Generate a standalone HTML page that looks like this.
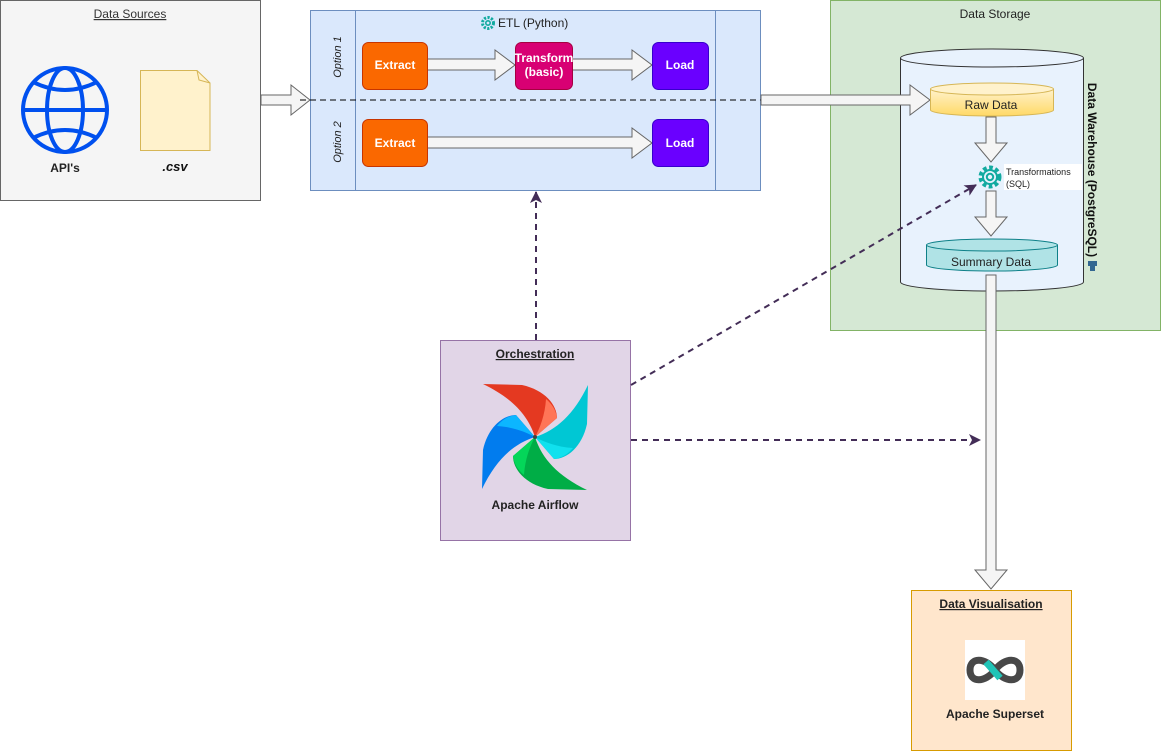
<!DOCTYPE html>
<html><head><meta charset="utf-8"><style>
html,body{margin:0;padding:0;background:#fff;width:1161px;height:752px;overflow:hidden}
svg{display:block;font-family:"Liberation Sans",Arial,sans-serif}
</style></head><body>
<svg width="1161" height="752" viewBox="0 0 1161 752" xmlns="http://www.w3.org/2000/svg">
<defs>
<linearGradient id="yg" x1="0" y1="0" x2="0" y2="1"><stop offset="0" stop-color="#fff2cc"/><stop offset="1" stop-color="#ffd966"/></linearGradient>
<marker id="ah" markerWidth="12" markerHeight="12" refX="11" refY="6" orient="auto" markerUnits="userSpaceOnUse"><path d="M0,0 L12,6 L0,12 L3,6 Z" fill="#432d57"/></marker>
</defs>

<rect x="0.5" y="0.5" width="260" height="200" fill="#f5f5f5" stroke="#666"/>
<text x="130" y="18" font-size="12" text-anchor="middle" fill="#333" text-decoration="underline">Data Sources</text>
<g fill="none" stroke="#0050ef" stroke-width="4">
<circle cx="65" cy="110" r="42"/>
<ellipse cx="65" cy="110" rx="18" ry="42"/>
<line x1="23" y1="110" x2="107" y2="110"/>
<path d="M33,82 Q65,98 97,82"/><path d="M33,138 Q65,122 97,138"/>
</g>
<text x="65" y="172" font-size="12" font-weight="bold" text-anchor="middle" fill="#222">API's</text>
<path d="M140.5,70.5 H197 L210,83 V150.5 H140.5 Z" fill="#fff2cc" stroke="#d6b656"/>
<path d="M197,70.5 L199,80 L210,83" fill="none" stroke="#d6b656"/>
<text x="175" y="171" font-size="13" font-weight="bold" font-style="italic" text-anchor="middle" fill="#111">.csv</text>

<path d="M261,95 H291 V85 L310,100 L291,115 V105 H261 Z" fill="#f5f5f5" stroke="#666"/>

<rect x="310.5" y="10.5" width="450" height="180" fill="#dae8fc" stroke="#6c8ebf"/>
<line x1="355.5" y1="10" x2="355.5" y2="190" stroke="#6c8ebf"/>
<line x1="715.5" y1="10" x2="715.5" y2="190" stroke="#6c8ebf"/>
<g transform="translate(488,23)" fill="none" stroke="#12aaa0" stroke-width="1.6">
<circle r="5.5" stroke-dasharray="2.2 1.4" stroke-width="3"/><circle r="2.2"/></g>
<text x="498" y="27" font-size="12" fill="#222">ETL (Python)</text>
<text transform="translate(341,57) rotate(-90)" font-size="11" font-style="italic" text-anchor="middle" fill="#222">Option 1</text>
<text transform="translate(341,142) rotate(-90)" font-size="11" font-style="italic" text-anchor="middle" fill="#222">Option 2</text>
<line x1="300" y1="100" x2="930" y2="100" stroke="#000" stroke-dasharray="6 4"/>

<path d="M427,59 H495 V50 L515,65 L495,80 V70 H427 Z" fill="#f5f5f5" stroke="#666"/>
<path d="M572,59 H632 V50 L652,65 L632,80 V70 H572 Z" fill="#f5f5f5" stroke="#666"/>
<path d="M427,137 H632 V128 L652,143 L632,158 V148 H427 Z" fill="#f5f5f5" stroke="#666"/>

<rect x="362.5" y="42.5" width="65" height="47" rx="6" fill="#fa6800" stroke="#c73500"/>
<text x="395" y="69" font-size="12" font-weight="bold" text-anchor="middle" fill="#fff">Extract</text>
<rect x="515.5" y="42.5" width="57" height="47" rx="6" fill="#d80073" stroke="#a50040"/>
<text x="544" y="62" font-size="12" font-weight="bold" text-anchor="middle" fill="#fff">Transform</text>
<text x="544" y="76" font-size="12" font-weight="bold" text-anchor="middle" fill="#fff">(basic)</text>
<rect x="652.5" y="42.5" width="56" height="47" rx="6" fill="#6a00ff" stroke="#3700cc"/>
<text x="680" y="69" font-size="12" font-weight="bold" text-anchor="middle" fill="#fff">Load</text>
<rect x="362.5" y="119.5" width="65" height="47" rx="6" fill="#fa6800" stroke="#c73500"/>
<text x="395" y="147" font-size="12" font-weight="bold" text-anchor="middle" fill="#fff">Extract</text>
<rect x="652.5" y="119.5" width="56" height="47" rx="6" fill="#6a00ff" stroke="#3700cc"/>
<text x="680" y="147" font-size="12" font-weight="bold" text-anchor="middle" fill="#fff">Load</text>

<rect x="830.5" y="0.5" width="330" height="330" fill="#d5e8d4" stroke="#82b366"/>
<text x="995" y="18" font-size="12" text-anchor="middle" fill="#222">Data Storage</text>
<path d="M900.5,58 V282 A91.5,9 0 0 0 1083.5,282 V58" fill="#e8f2fd" stroke="#333"/>
<ellipse cx="992" cy="58" rx="91.5" ry="9" fill="#e8f2fd" stroke="#333"/>
<text transform="translate(1088,170) rotate(90)" font-size="12" font-weight="bold" text-anchor="middle" fill="#111">Data Warehouse (PostgreSQL)</text>
<path d="M1088,261 h9 v5 h-2 v5 h-5 v-5 h-2 z" fill="#336791"/>

<path d="M761,95 H910 V85 L930,100 L910,115 V105 H761 Z" fill="#f5f5f5" stroke="#666"/>

<path d="M930.5,89 V110 A61.5,6 0 0 0 1053.5,110 V89" fill="url(#yg)" stroke="#d6b656"/>
<ellipse cx="992" cy="89" rx="61.5" ry="6" fill="#fff2cc" stroke="#d6b656"/>
<text x="991" y="109" font-size="12" text-anchor="middle" fill="#222">Raw Data</text>

<path d="M986,117 H996 V143 H1007 L991,162 L975,143 H986 Z" fill="#f5f5f5" stroke="#666"/>
<rect x="1004" y="164" width="78" height="26" fill="#fff"/>
<text x="1006" y="175" font-size="9" fill="#222">Transformations</text>
<text x="1006" y="187" font-size="9" fill="#222">(SQL)</text>
<g transform="translate(990,177)" fill="none" stroke="#12aaa0">
<circle r="9" stroke-dasharray="3.5 2.4" stroke-width="5"/><circle r="7" stroke-width="2"/><circle r="3.2" stroke-width="2"/></g>
<path d="M986,191 H996 V217 H1007 L991,236 L975,217 H986 Z" fill="#f5f5f5" stroke="#666"/>

<path d="M926.5,245 V265 A65.5,6 0 0 0 1057.5,265 V245" fill="#b0e3e6" stroke="#0e8088"/>
<ellipse cx="992" cy="245" rx="65.5" ry="6" fill="#b0e3e6" stroke="#0e8088"/>
<text x="991" y="266" font-size="12" text-anchor="middle" fill="#222">Summary Data</text>

<path d="M986,275 H996 V570 H1007 L991,589 L975,570 H986 Z" fill="#f5f5f5" stroke="#666"/>

<rect x="440.5" y="340.5" width="190" height="200" fill="#e1d5e7" stroke="#9673a6"/>
<text x="535" y="358" font-size="12" font-weight="bold" text-anchor="middle" fill="#222" text-decoration="underline">Orchestration</text>
<g>
<g><path d="M483,384 L522,385 C545,390 557,405 557,418 L535,437 C528,415 512,398 483,384 Z" fill="#e43921"/><path d="M535,437 L557,418 C556,410 552,404 546,399 C545,415 540,428 535,437 Z" fill="#ff7557"/></g>
<g transform="rotate(90 535 437)"><path d="M483,384 L522,385 C545,390 557,405 557,418 L535,437 C528,415 512,398 483,384 Z" fill="#00c7d4"/><path d="M535,437 L557,418 C556,410 552,404 546,399 C545,415 540,428 535,437 Z" fill="#11e1ee"/></g>
<g transform="rotate(180 535 437)"><path d="M483,384 L522,385 C545,390 557,405 557,418 L535,437 C528,415 512,398 483,384 Z" fill="#00ad46"/><path d="M535,437 L557,418 C556,410 552,404 546,399 C545,415 540,428 535,437 Z" fill="#04d659"/></g>
<g transform="rotate(270 535 437)"><path d="M483,384 L522,385 C545,390 557,405 557,418 L535,437 C528,415 512,398 483,384 Z" fill="#017cee"/><path d="M535,437 L557,418 C556,410 552,404 546,399 C545,415 540,428 535,437 Z" fill="#0cb6ff"/></g>
<circle cx="535" cy="437" r="2" fill="#444"/>
</g>
<text x="535" y="509" font-size="12" font-weight="bold" text-anchor="middle" fill="#222">Apache Airflow</text>

<g stroke="#432d57" stroke-width="2" stroke-dasharray="6 5" fill="none">
<line x1="536" y1="340" x2="536" y2="192" marker-end="url(#ah)"/>
<line x1="631" y1="385" x2="976" y2="185" marker-end="url(#ah)"/>
<line x1="631" y1="440" x2="980" y2="440" marker-end="url(#ah)"/>
</g>

<rect x="911.5" y="590.5" width="160" height="160" fill="#ffe6cc" stroke="#d79b00"/>
<text x="991" y="608" font-size="12" font-weight="bold" text-anchor="middle" fill="#222" text-decoration="underline">Data Visualisation</text>
<rect x="965" y="640" width="60" height="60" fill="#fff"/>
<path d="M995,670 C985,657 970,657 970,670 C970,683 985,683 995,670 C1005,657 1020,657 1020,670 C1020,683 1005,683 995,670" fill="none" stroke="#484848" stroke-width="7"/>
<path d="M986,662 L1000,678" stroke="#20c4b7" stroke-width="7"/>
<text x="995" y="718" font-size="12" font-weight="bold" text-anchor="middle" fill="#222">Apache Superset</text>
</svg>
</body></html>
